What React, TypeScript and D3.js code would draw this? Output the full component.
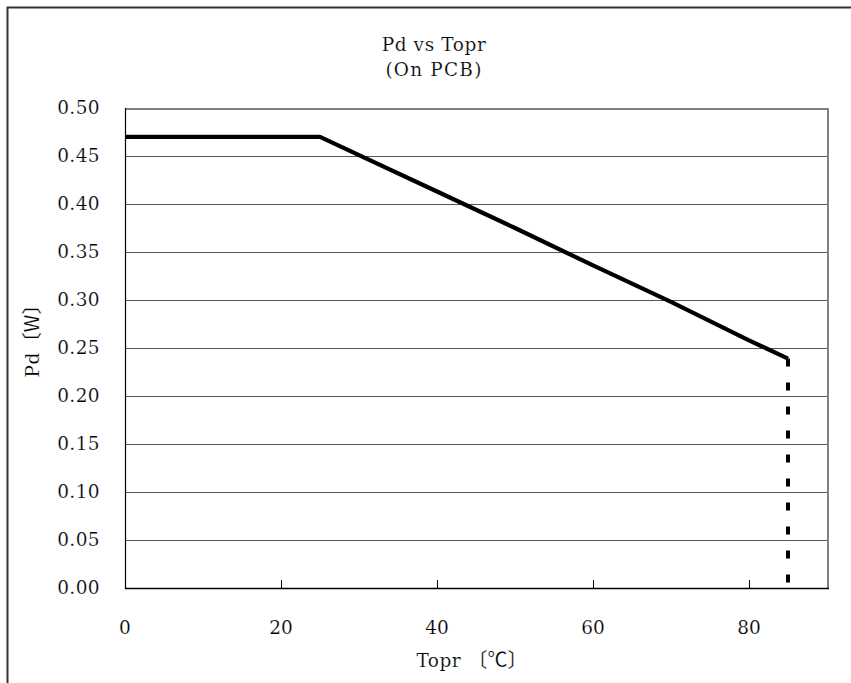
import React from 'react';
import * as d3 from 'd3';

const temps = [0, 25, 30, 40, 50, 60, 70, 80, 85];
const power = [0.47, 0.47, 0.451, 0.413, 0.375, 0.336, 0.298, 0.258, 0.239];
const xTicks = [0, 20, 40, 60, 80];
const yTicks = [0, 0.05, 0.1, 0.15, 0.2, 0.25, 0.3, 0.35, 0.4, 0.45, 0.5];
const cutoffTemp = 85;
const title1 = 'Pd vs Topr';
const title2 = '(On PCB)';

const W = 851;
const H = 683;
const L = 125, R = 827, T = 108, B = 588;
const serif = '"DejaVu Serif", serif';
const cjk = '"Noto Sans CJK JP", sans-serif';
const FS = 18.5;
const thin = { stroke: '#fff', strokeWidth: 0.2 } as const;

export default function App() {
  const x = d3.scaleLinear().domain([0, 90]).range([L, R]);
  const y = d3.scaleLinear().domain([0, 0.5]).range([B, T]);
  const pts: [number, number][] = temps.map((t, i) => [t, power[i]]);
  const line = d3.line<[number, number]>().x(d => x(d[0])).y(d => y(d[1]));
  const lastP = power[power.length - 1];

  return (
    <svg width={W} height={H} style={{ position: 'absolute', left: 0, top: 0, background: '#fff' }}>
      <rect x={0} y={0} width={W} height={H} fill="#fff" />
      <path d={`M7.5,${H} V7.5 H${W}`} fill="none" stroke="#333" strokeWidth={2} />
      {yTicks.filter(v => v > 0 && v < 0.5).map(v => (
        <line key={v} x1={L} x2={R} y1={Math.round(y(v)) + 0.5} y2={Math.round(y(v)) + 0.5} stroke="#555" strokeWidth={1} />
      ))}
      <line x1={L} x2={R + 1} y1={T + 1} y2={T + 1} stroke="#808080" strokeWidth={2} />
      <line x1={R + 1} x2={R + 1} y1={T} y2={B + 1} stroke="#808080" strokeWidth={2} />
      <line x1={L + 0.5} x2={L + 0.5} y1={T} y2={B + 1} stroke="#000" strokeWidth={1.2} />
      <line x1={L} x2={R + 2} y1={B + 0.5} y2={B + 0.5} stroke="#000" strokeWidth={1.5} />
      {xTicks.filter(v => v > 0).map(v => (
        <line key={v} x1={Math.round(x(v)) + 0.5} x2={Math.round(x(v)) + 0.5} y1={B} y2={B - 8} stroke="#000" strokeWidth={1} />
      ))}
      <path d={line(pts) || ''} fill="none" stroke="#000" strokeWidth={4.2} strokeLinejoin="round" />
      <line x1={x(cutoffTemp)} x2={x(cutoffTemp)} y1={y(lastP)} y2={y(0)} stroke="#000" strokeWidth={4} strokeDasharray="8 16" />
      <g fontFamily={serif} fontSize={FS} fill="#000" {...thin}>
        {yTicks.map(v => (
          <text key={v} x={100} y={y(v)} dy="0.35em" textAnchor="end" letterSpacing={0.4}>
            {v.toFixed(2)}
          </text>
        ))}
        {xTicks.map(v => (
          <text key={v} x={x(v)} y={634} textAnchor="middle">
            {v}
          </text>
        ))}
        <text x={434} y={51} textAnchor="middle" letterSpacing={0.6}>{title1}</text>
        <text x={434} y={76} textAnchor="middle" letterSpacing={1.2}>{title2}</text>
        <text x={472} y={667} textAnchor="middle" letterSpacing={0.5}>
          Topr <tspan fontFamily={cjk} fontSize={20} letterSpacing={0}>〔℃〕</tspan>
        </text>
        <text transform="translate(39,336) rotate(-90)" textAnchor="middle" letterSpacing={0.5}>
          Pd<tspan fontFamily={cjk} fontSize={20} letterSpacing={0}>〔W〕</tspan>
        </text>
      </g>
    </svg>
  );
}
